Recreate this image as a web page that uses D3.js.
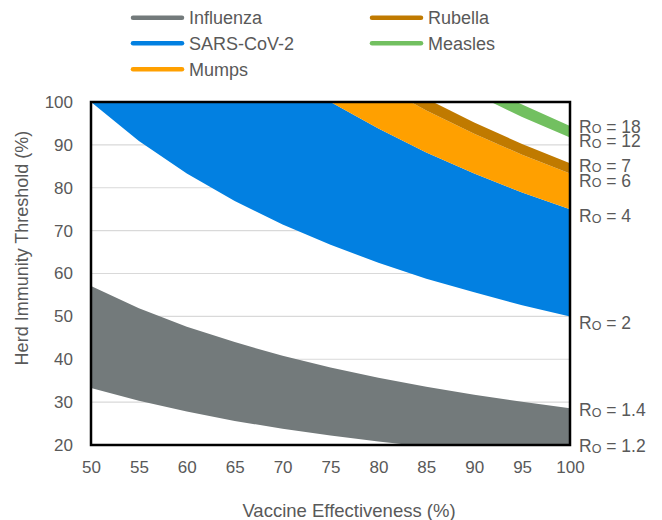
<!DOCTYPE html>
<html><head><meta charset="utf-8">
<script src="https://cdn.jsdelivr.net/npm/d3@7"></script>
<style>body{margin:0;background:#fff}svg{display:block;font-family:"Liberation Sans",Arial,sans-serif}</style>
</head><body><svg id="c" width="662" height="520"></svg>
<script>
const ve = [50, 55, 60, 65, 70, 75, 80, 85, 90, 95, 100];
const r0_1_2 = [33.3, 30.3, 27.8, 25.6, 23.8, 22.2, 20.8, 19.6, 18.5, 17.5, 16.7];
const r0_1_4 = [57.1, 51.9, 47.6, 44.0, 40.8, 38.1, 35.7, 33.6, 31.7, 30.1, 28.6];
const r0_2 = [100, 90.9, 83.3, 76.9, 71.4, 66.7, 62.5, 58.8, 55.6, 52.6, 50];
const r0_4 = [150, 136.4, 125, 115.4, 107.1, 100, 93.8, 88.2, 83.3, 78.9, 75];
const r0_6 = [166.7, 151.5, 138.9, 128.2, 119.0, 111.1, 104.2, 98.0, 92.6, 87.7, 83.3];
const r0_7 = [171.4, 155.8, 142.9, 131.9, 122.4, 114.3, 107.1, 100.8, 95.2, 90.2, 85.7];
const r0_12 = [183.3, 166.7, 152.8, 141.0, 131.0, 122.2, 114.6, 107.8, 101.9, 96.5, 91.7];
const r0_18 = [188.9, 171.7, 157.4, 145.3, 134.9, 125.9, 118.1, 111.1, 104.9, 99.4, 94.4];
const diseases = ["Influenza", "SARS-CoV-2", "Mumps", "Rubella", "Measles"];
const bandLow = [r0_1_2, r0_2, r0_4, r0_6, r0_12];
const bandHigh = [r0_1_4, r0_4, r0_6, r0_7, r0_18];
const colors = ["#737a7b", "#0280e1", "#ffa000", "#c07a00", "#72c060"];
const r0Labels = ["18", "12", "7", "6", "4", "2", "1.4", "1.2"];
const r0LabelAt = [94.24, 90.83, 85.14, 81.64, 73.34, 48.45, 28.16, 19.7];
const xTicks = [50, 55, 60, 65, 70, 75, 80, 85, 90, 95, 100];
const yTicks = [20, 30, 40, 50, 60, 70, 80, 90, 100];

const svg = d3.select("#c");
const L = 91, R = 570, T = 102, B = 445;
const x = d3.scaleLinear().domain([50, 100]).range([L, R]);
const y = d3.scaleLinear().domain([20, 100]).range([B, T]);
const txt = "#595959";

svg.append("defs").append("clipPath").attr("id", "pc")
  .append("rect").attr("x", L).attr("y", T).attr("width", R - L).attr("height", B - T);

// gridlines
svg.append("g").selectAll("line").data(yTicks.filter(d => d > 20 && d < 100)).join("line")
  .attr("x1", L).attr("x2", R).attr("y1", d => y(d)).attr("y2", d => y(d))
  .attr("stroke", "#d9d9d9").attr("stroke-width", 1.2);

// bands
const g = svg.append("g").attr("clip-path", "url(#pc)");
diseases.forEach((dname, i) => {
  const area = d3.area().x((d, j) => x(ve[j])).y0((d, j) => y(bandLow[i][j])).y1((d, j) => y(bandHigh[i][j]));
  g.append("path").datum(ve).attr("d", area).attr("fill", colors[i]);
});

// border
svg.append("rect").attr("x", L).attr("y", T).attr("width", R - L).attr("height", B - T)
  .attr("fill", "none").attr("stroke", "#000").attr("stroke-width", 2.5);

// axes
const xa = svg.append("g").attr("transform", `translate(0,${B})`)
  .call(d3.axisBottom(x).tickValues(xTicks).tickSize(0).tickPadding(16));
const ya = svg.append("g").attr("transform", `translate(${L},0)`)
  .call(d3.axisLeft(y).tickValues(yTicks).tickSize(0).tickPadding(18));
[xa, ya].forEach(a => {
  a.select(".domain").remove();
  a.selectAll("text").attr("fill", txt).attr("font-size", 17).attr("font-family", "Liberation Sans, Arial, sans-serif");
});

// axis titles
svg.append("text").attr("x", 349).attr("y", 517).attr("text-anchor", "middle")
  .attr("fill", txt).attr("font-size", 18.5).text("Vaccine Effectiveness (%)");
svg.append("text").attr("transform", `translate(28,248) rotate(-90)`).attr("text-anchor", "middle")
  .attr("fill", txt).attr("font-size", 18).text("Herd Immunity Threshold (%)");

// R0 labels
r0Labels.forEach((lab, i) => {
  const t = svg.append("text").attr("x", 579).attr("y", y(r0LabelAt[i]) + 6).attr("fill", txt).attr("font-size", 17.5);
  t.append("tspan").text("R");
  t.append("tspan").attr("font-size", 12.5).attr("dy", 0.5).text("O");
  t.append("tspan").attr("dy", -0.5).text(" = " + lab);
});

// legend
const legPos = [[131, 17.7], [131, 43.3], [131, 69.3], [370, 17.7], [370, 43.3]];
diseases.forEach((dname, i) => {
  const [lx, ly] = legPos[i];
  svg.append("line").attr("x1", lx + 2).attr("x2", lx + 51).attr("y1", ly).attr("y2", ly)
    .attr("stroke", colors[i]).attr("stroke-width", 4.5).attr("stroke-linecap", "round");
  svg.append("text").attr("x", lx + 58).attr("y", ly + 6.5).attr("fill", txt).attr("font-size", 18).text(dname);
});
</script></body></html>
